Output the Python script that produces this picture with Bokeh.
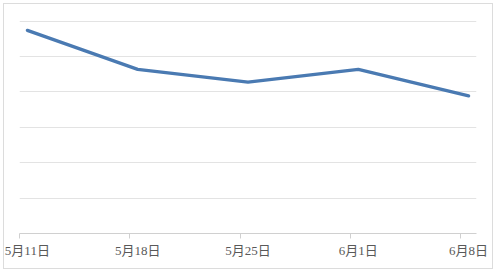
from bokeh.plotting import figure
from bokeh.models import FixedTicker, Range1d
from bokeh.embed import file_html
from bokeh.resources import INLINE

dates = ["5月11日", "5月18日", "5月25日", "6月1日", "6月8日"]
values = [5.74, 4.64, 4.28, 4.64, 3.89]
day_step = 7

xs = [i * day_step + 0.5 for i in range(len(dates))]
day_bounds = [i * day_step for i in range(len(dates))]

p = figure(width=496, height=272, output_backend="svg", toolbar_location=None,
           x_range=Range1d(0, 29), y_range=Range1d(0, 6.02),
           min_border_left=19, min_border_right=20,
           min_border_top=20, min_border_bottom=39,
           stylesheets=[":host { background: white; outline: 1.5px solid #dcdcdc; outline-offset: -4px; }"])
p.outline_line_color = None
p.background_fill_color = None
p.border_fill_color = None
p.border_fill_alpha = 0
p.background_fill_alpha = 0

p.line(xs, values, line_color="#4A7AB2", line_width=3.3, line_cap="round", line_join="round")

p.yaxis.visible = False
p.ygrid.ticker = FixedTicker(ticks=[0, 1, 2, 3, 4, 5, 6])
p.ygrid.grid_line_color = "#e3e3e3"
p.ygrid.grid_line_width = 1
p.xgrid.visible = False

ax = p.xaxis[0]
ax.ticker = FixedTicker(ticks=xs, minor_ticks=day_bounds)
ax.major_label_overrides = {x: d for x, d in zip(xs, dates)}
ax.major_tick_line_color = None
ax.major_tick_in = 0
ax.major_tick_out = 0
ax.minor_tick_in = 0
ax.minor_tick_out = 5
ax.minor_tick_line_color = "#d0d0d0"
ax.axis_line_color = "#d0d0d0"
ax.major_label_standoff = 4
ax.major_label_text_font = "Liberation Serif, Noto Sans CJK SC"
ax.major_label_text_font_size = "13px"
ax.major_label_text_color = "#595959"

open("out.html", "w").write(file_html(p, INLINE))
